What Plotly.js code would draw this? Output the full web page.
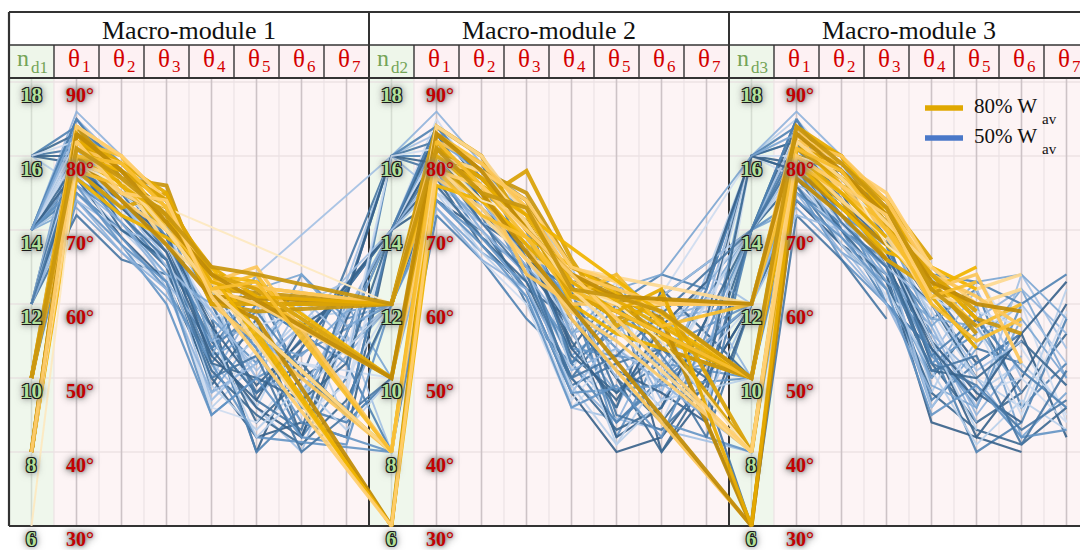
<!DOCTYPE html>
<html><head><meta charset="utf-8">
<script src="https://cdn.plot.ly/plotly-3.0.1.min.js"></script>
<style>html,body{margin:0;padding:0;background:#fff}</style>
</head><body><div id="chart" style="width:1080px;height:550px"></div>
<script>
const moduleTitles = ["Macro-module 1", "Macro-module 2", "Macro-module 3"];
const ndTicks = [6, 8, 10, 12, 14, 16, 18];
const thetaTicks = ["30°", "40°", "50°", "60°", "70°", "80°", "90°"];
const legendMain = ["80% W", "50% W"];
const legendSub = "av";

// ---- 50% W_av (blue) ----
const blueNd1 = [14,12,14,16,12,14,10,14,12,14,16,12,14,12,14,10,14,12,16,14,12,14,14,12,16,14,12,14,10,14,
                 14,12,16,14,12,14,10,14,12,14,16,12,14,12,14,10,14,16,12,14];
const blueAng1 = [
 [85,78,72,55,48,52,45],[80,72,66,50,60,46],[82,75,70,62,54,42,50],[76,70,64,46,52,58,44],[84,76,68,58,40,54],
 [78,74,62,52,46,40,56],[74,68,60,45,50],[80,72,74,64,58,62,48],[72,66,64,54,62,50],[83,77,70,48,56,46,60],
 [79,73,69,56,44,50,54],[85,79,71,60,50,48],[75,70,66,52,60,56,52],[81,74,67,62,46,58],[77,69,63,50,42,44,42],
 [82,76,70,56,64],[84,76,69,58,52,64,58],[78,68,62,47,54,52],[81,78,72,60,48,54,62],[73,67,61,53,56,50,46],
 [79,71,65,49,58,42],[86,80,73,63,62,58,52],[76,72,65,57,40,46,44],[83,75,66,51,55,60],[80,74,68,54,46,42,58],
 [74,70,68,59,50,60,63],[77,73,71,61,54,44],[82,71,64,46,44,52,50],[78,75,67,55,48],[80,77,71,53,64,48,56],
 [79,70,66,51,45,41,47],[76,71,63,55,57,47],[84,79,73,61,60,56,61],[81,73,67,49,43,49,43],[78,74,69,57,49,55],
 [83,74,66,47,53,61,55],[75,69,62,52,42],[80,75,70,58,61,45,49],[82,77,73,63,47,43],[77,71,64,60,55,53,59],
 [83,76,70,52,50,47,52],[74,67,62,48,52,57],[85,77,69,54,59,51,45],[80,73,68,56,42,48],[78,73,67,53,47,57,61],
 [81,74,65,59,51],[76,68,63,45,50,42,41],[82,78,74,62,57,59,53],[79,72,66,50,53,40],[84,78,72,55,62,64,57]
];
const blueNd2 = [14,12,16,10,14,8,12,14,16,10,12,14,8,12,14,16,12,10,14,12,14,16,10,12,14,16,8,12,14,14,
                 12,14,16,10,14,12,8,14,16,12,14,10,14,12,16,14,12,16,10,12];
const blueAng2 = [
 [84,76,70,58,50,44,52],[78,70,64,52,46,58],[80,74,68,60,44,50,62],[74,68,62,48,56],[83,78,72,54,62,40,48],
 [76,72,66,46],[82,74,66,62,42,54],[85,76,70,64,56,60,46],[78,72,60,50,58,52,44],[80,74,68,56,48],
 [77,68,62,58,50,40],[81,75,64,50,44,56,60],[72,66,58,52],[84,77,71,56,60,48],[74,70,62,48,40,42,50],
 [83,77,73,65,52,46,54],[79,72,68,60,54,44],[76,66,60,46,52],[82,79,66,62,48,52,42],[73,67,63,53,58,52],
 [80,71,67,55,46,62,56],[86,79,74,63,64,58,60],[78,69,65,52,44],[81,73,69,51,62,56],[77,73,65,57,42,46,58],
 [75,71,69,61,60,48,64],[79,75,63,54],[75,70,61,47,54,50],[79,74,66,49,52,54,48],[82,78,72,59,64,50,52],
 [76,69,63,50,43,46],[78,70,64,56,58,47,55],[84,80,72,62,60,64,62],[75,67,61,49,41],[80,73,67,58,51,48,44],
 [82,73,65,48,56,61],[74,69,62,48],[81,76,69,57,63,44,57],[82,75,71,63,45,43,49],[77,71,65,59,55,50],
 [83,74,68,53,48,54,50],[73,66,62,51,54],[84,77,70,52,60,53,45],[80,72,66,57,41,47],[79,72,68,54,47,57,63],
 [76,74,66,60,50,55,47],[74,68,61,46,49,42],[81,77,73,61,57,59,53],[79,71,64,50,53],[83,78,70,56,62,64]
];
const blueNd3 = [14,12,16,10,14,8,12,16,6,14,12,10,14,16,12,14,8,16,12,14,10,16,12,14,16,12,10,14,6,16,
                 14,12,16,14,12,14,10,16,14,12,16,8,14,10,16,12,14,12,14,16];
const blueAng3 = [
 [85,74,68,52,44,48,56],[80,72,62,56,50,42],[78,70,66,58,62,46,52],[82,76,70,48,60],[84,77,69,60,52,56,42],
 [74,68,60,50],[76,66,60,54,46,60],[83,75,72,62,64,54,45],[72,66,58],[80,72,64,46,54,62,50],
 [78,74,66,50,58,48],[76,70,62,56,44],[82,70,60,54,40,44,58],[85,78,70,64,48,52,46],[74,68,64,44,42,40],
 [79,76,70,58,46,64,54],[80,72,68,56],[77,69,61,52,56,60,44],[83,77,71,62,54,52],[73,67,63,50,60,42,48],
 [78,72,66,60,50],[86,80,73,65,58,62,56],[75,71,65,47,52,56],[81,73,67,59,50,46,62],[79,75,65,55,42,50,60],
 [72,70,68,53,62,50],[84,74,60,52,56],[77,71,61,57,48,50,44],[76,68,62],[82,76,69,49,46,58,50],
 [77,70,63,48,43,41,46],[79,69,64,57,45,53],[84,79,72,64,63,60,64],[78,68,62,51,41,47,43],[80,73,68,55,48,44],
 [83,74,66,46,55,60,52],[75,70,65,53,47],[80,77,71,61,57,45,59],[81,75,69,52,49,43,47],[77,72,63,58,57,48],
 [82,74,66,51,50,55,49],[75,67,60,48],[85,76,68,53,58,51,46],[79,71,67,55,43],[78,73,67,54,47,56,63],
 [76,74,65,60,51,55],[74,69,62,45,49,42,43],[82,78,72,61,59,57],[80,71,65,51,53,41,51],[83,79,70,57,63,64,58]
];

// ---- 80% W_av (gold) ----
const goldNd1 = [8,10,8,10,8,10,8,10,8,10,8,10,8,10,8,10,8,10,6,8, 8,10,8,10,8,10,8,10];
const goldAng1 = [
 [82,78,72,62],[80,76,70,64,63],[84,80,74,60],[78,73,75,61,60],[81,77,68,63],
 [83,79,73,65,61],[79,75,72,61],[82,80,70,62,64],[80,74,70,64],[84,77,76,60,59],
 [77,72,69,65],[81,78,71,63,65],[83,76,73,60],[79,75,72,64,62],[82,79,75,62],
 [80,74,68,61,58],[78,76,71,63],[84,80,74,62,60],[79,76,73],[80,78,74,64],
 [81,79,73,63],[83,78,74,64,62],[79,77,70,62],[82,76,72,63,61],[83,78,71,64],
 [80,79,73,62,63],[82,75,74,61],[81,77,72,65,64]
];
const goldNd2 = [12,10,8,12,6,10,12,8,10,12,6,8,12,10,8,6,12,10,12,6, 12,10,8,12,10,8,6,12];
const goldAng2 = [
 [80,78,74,62,58,60],[82,76,72,60,56],[78,74,68,58],[84,80,70,64,60,56],[79,72,66],
 [80,75,68,62,58],[81,77,71,63,61,58],[83,79,73,61],[77,73,66,59,55],[83,78,75,65,62,54],
 [76,74,69],[80,76,64,60],[79,74,78,66,57,61],[84,80,72,63,60],[81,77,70,64],
 [82,75,67],[78,72,69,61,64,57],[79,78,74,65,63],[80,74,72,62,60,55],[81,77,72],
 [82,79,73,64,62,60],[81,77,71,61,59],[80,78,71,62],[80,76,72,63,59,62],[83,78,70,64,61],
 [82,76,69,62],[78,76,70],[81,75,73,62,61,59]
];
const goldNd3 = [12,10,6,8,12,10,6,12,8,10,10,12,8,12,10,6,12,10,8,10, 12,10,8,6,12,10,8,10];
const goldAng3 = [
 [83,80,70,64,58,56],[80,76,68,62,60],[82,78,72],[79,74,66,62],[81,79,73,65,62,64],
 [84,80,72,61,54],[78,73,68],[82,77,74,63,57,60],[83,75,70,60],[80,78,71,63,56],
 [79,73,67,65,62],[84,76,70,62,64,52],[81,79,74,66],[80,74,69,61,60,62],[82,76,73,64,58],
 [77,72,66],[79,75,71,60,55,58],[83,79,75,65,60],[80,78,68,63],[82,80,72,62,65],
 [82,80,74,64,61,57],[81,77,71,64,59],[82,77,71,65],[80,75,69],[83,78,72,63,60,59],
 [81,78,70,61,63],[80,76,72,61],[84,79,73,62,57]
];

// ---------- geometry helpers ----------
const NCOL = 24;
const Y_LO = 6, Y_TOP = 18.1081, Y_HDR = 19.0, Y_FRAME = 19.8919;
const X_L = -0.5, X_R = 23.3;
const thetaToY = t => 6 + (t - 30) / 5;
const pxX = px => px / 45 - 0.7;          // pixel -> data x
const pxY = py => 6 + (526 - py) / 37;    // pixel -> data y

function buildLines(ndA, angA, ndB, angB, ndC, angC) {
  return ndA.map((_, i) => {
    const y = [];
    [[ndA[i], angA[i]], [ndB[i], angB[i]], [ndC[i], angC[i]]].forEach(([nd, ang]) => {
      y.push(nd);
      for (let k = 0; k < 7; k++) y.push(k < ang.length ? thetaToY(ang[k]) : null);
    });
    return y;
  });
}
const xs = [];
for (let i = 0; i < NCOL; i++) xs.push(i);

const blueLines = buildLines(blueNd1, blueAng1, blueNd2, blueAng2, blueNd3, blueAng3);
const goldLines = buildLines(goldNd1, goldAng1, goldNd2, goldAng2, goldNd3, goldAng3);

const bluePal = ["#3b6891", "#8fb3dc", "#4f82b3", "#b8cfea", "#36618a", "#a2c0e3", "#6393c4", "#cddcf0", "#4676a3", "#7aa5d2"];
const goldPal = ["#c8960e", "#f0b400", "#fcc65a", "#d9a106", "#fdd890", "#e6ab00", "#bf8b06", "#f7bd2e", "#ffcf70"];

const traces = [];
blueLines.forEach((y, i) => {
  const c = bluePal[i % bluePal.length];
  traces.push({type: "scatter", mode: "lines", x: xs, y: y, connectgaps: true,
    line: {color: c, width: (i % 2 === 0) ? 2.2 : 1.9}, opacity: 0.9,
    hoverinfo: "skip", showlegend: false});
});
goldLines.forEach((y, i) => {
  const c = (goldNd1[i] === 6) ? "#fde8c0" : goldPal[i % goldPal.length];
  traces.push({type: "scatter", mode: "lines", x: xs, y: y, connectgaps: true,
    line: {color: c, width: (goldNd1[i] === 6) ? 2 : ((i % 3 === 0) ? 4 : 3.4)}, opacity: 0.93,
    hoverinfo: "skip", showlegend: false});
});

// ---------- shapes ----------
const shapes = [];
const rect = (x0, x1, y0, y1, fill) => shapes.push({type: "rect", xref: "x", yref: "y", x0, x1, y0, y1,
  fillcolor: fill, line: {width: 0}, layer: "below"});
const seg = (x0, y0, x1, y1, color, width, layer) => shapes.push({type: "line", xref: "x", yref: "y",
  x0, y0, x1, y1, line: {color, width}, layer: layer || "below"});

for (let c = 0; c < NCOL; c++) {
  const isNd = c % 8 === 0;
  rect(c - 0.5, c + 0.5, Y_LO, Y_TOP, isNd ? "#eff7ec" : "#fdf4f5");
  rect(c - 0.5, c + 0.5, Y_TOP, Y_HDR, isNd ? "#eef6ea" : "#fdf1f3");
}
[8, 10, 12, 14, 16, 18].forEach(v => seg(X_L, v, X_R, v, "#e5dadc", 1.2));
for (let c = 0; c < NCOL; c++) {
  const isNd = c % 8 === 0;
  seg(c, Y_LO, c, Y_TOP, isNd ? "#d5ddd2" : "#cdc3c6", 1.6);
  if ((c + 1) % 8 !== 0) seg(c + 0.5, Y_LO, c + 0.5, Y_TOP, "#ece2e4", 1.2);
}
const FR = "#333333";
seg(X_L, Y_FRAME, X_R, Y_FRAME, FR, 2.2);
seg(X_L, Y_HDR, X_R, Y_HDR, FR, 1.6);
seg(X_L, Y_TOP, X_R, Y_TOP, FR, 2);
seg(X_L, Y_LO, X_R, Y_LO, FR, 2.2);
seg(X_L, Y_LO, X_L, Y_FRAME, FR, 2.2);
[7.5, 15.5].forEach(x => seg(x, Y_LO, x, Y_FRAME, FR, 2));
for (let c = 0; c < NCOL; c++) {
  if ((c + 1) % 8 !== 0) seg(c + 0.5, Y_TOP, c + 0.5, Y_HDR, FR, 1.4);
}
// legend samples
const legendColors = ["#e0a800", "#4a78c8"];
const legendRowsPx = [108, 138];
legendColors.forEach((col, i) => {
  seg(pxX(925), pxY(legendRowsPx[i]), pxX(963), pxY(legendRowsPx[i]), col, 5.5, "above");
});

// ---------- annotations ----------
const ann = [];
const SERIF = "Liberation Serif, Times New Roman, serif";
const greenShadow = "-1px -1px 0 #1b1b1b, 1px -1px 0 #1b1b1b, -1px 1px 0 #1b1b1b, 1px 1px 0 #1b1b1b, 0 0 6px #666, 0 0 10px #7a7a7a";
const redShadow = "0 0 3px #888, 0 0 6px #808080, 0 0 10px #8a8a8a";
const A = (o) => ann.push(Object.assign({xref: "x", yref: "y", showarrow: false}, o));
moduleTitles.forEach((t, m) => {
  A({x: 8 * m + 3.5, y: pxY(30), text: t, font: {family: SERIF, size: 26, color: "#111"}});
  A({x: 8 * m, y: pxY(58), xanchor: "right", xshift: -1, text: "n", font: {family: SERIF, size: 24, color: "#74a457"}});
  A({x: 8 * m, y: pxY(67), xanchor: "left", xshift: -3, text: "d" + (m + 1), font: {family: SERIF, size: 17, color: "#74a457"}});
  for (let k = 1; k <= 7; k++) {
    A({x: 8 * m + k, y: pxY(58), xanchor: "right", xshift: 5, text: "θ", font: {family: SERIF, size: 25, color: "#d40000"}});
    A({x: 8 * m + k, y: pxY(66), xanchor: "left", xshift: 3, text: String(k), font: {family: SERIF, size: 17, color: "#d40000"}});
  }
  ndTicks.forEach((v, i) => {
    A({x: 8 * m, y: v, yshift: -13, text: "<b>" + v + "</b>",
      font: {family: SERIF, size: 21, color: "#b2e09a", shadow: greenShadow}});
    A({x: 8 * m + 1, y: v, yshift: -13, xshift: 3, text: "<b>" + thetaTicks[i] + "</b>",
      font: {family: SERIF, size: 20, color: "#c40000", shadow: redShadow}});
  });
});
legendMain.forEach((t, i) => {
  A({x: pxX(972), y: pxY(legendRowsPx[i] - 2), xanchor: "left", text: t, font: {family: SERIF, size: 21, color: "#111"}});
  A({x: pxX(1040), y: pxY(legendRowsPx[i] + 11), xanchor: "left", text: legendSub, font: {family: SERIF, size: 15, color: "#111"}});
});

const layout = {
  width: 1080, height: 550,
  margin: {l: 0, r: 0, t: 0, b: 0, pad: 0},
  paper_bgcolor: "#ffffff", plot_bgcolor: "#ffffff",
  xaxis: {range: [-0.7, 23.3], visible: false, fixedrange: true},
  yaxis: {range: [5.35135, 20.21622], visible: false, fixedrange: true},
  shapes: shapes, annotations: ann,
  showlegend: false
};
Plotly.newPlot("chart", traces, layout, {staticPlot: true, displayModeBar: false});
</script></body></html>
